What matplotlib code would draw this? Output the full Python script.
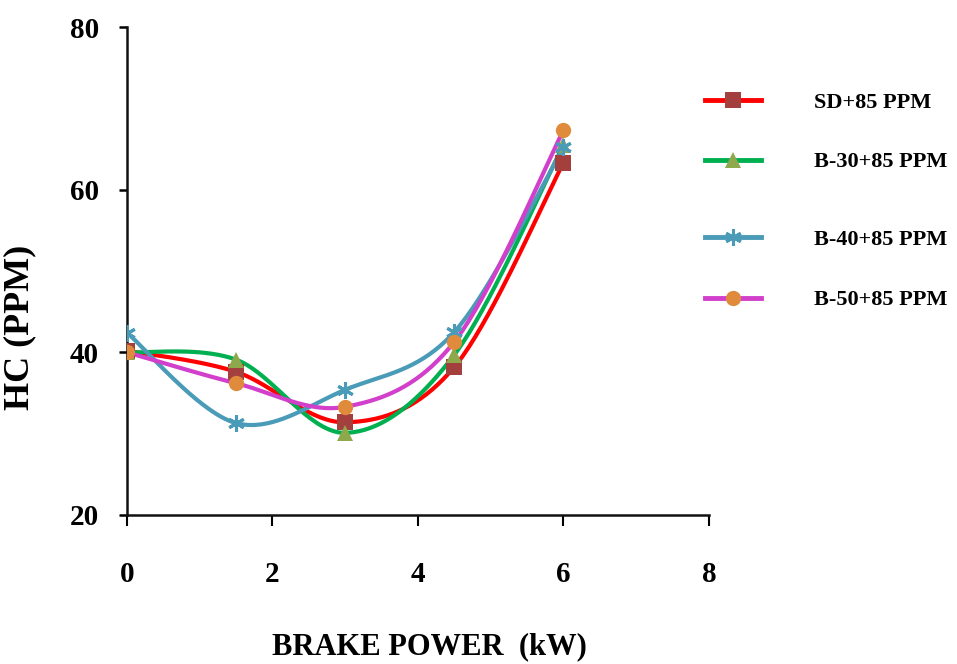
import numpy as np
import matplotlib
matplotlib.use("Agg")
import matplotlib.pyplot as plt
from matplotlib.lines import Line2D

plt.rcParams['font.family'] = ['Liberation Serif', 'DejaVu Serif']
plt.rcParams['font.weight'] = 'bold'

brake_power = [0, 1.5, 3, 4.5, 6]
sd_85 = [40.2, 37.6, 31.4, 38.2, 63.3]
b30_85 = [40.0, 39.1, 30.1, 39.7, 65.5]
b40_85 = [42.4, 31.3, 35.4, 42.5, 65.2]
b50_85 = [40.0, 36.2, 33.3, 41.3, 67.3]

labels = ['SD+85 PPM', 'B-30+85 PPM', 'B-40+85 PPM', 'B-50+85 PPM']
line_colors = ['#FF0000', '#00B050', '#4A9BB8', '#D13FCB']
marker_colors = ['#A3403D', '#8EA84C', '#4A9BB8', '#E08A3C']
markers = ['s', '^', (6, 2, 0), 'o']
legend_y = [0.845, 0.756, 0.639, 0.548]


def smooth(xs, ys, steps=40):
    # excel style smoothed line (bezier through every point)
    p = np.column_stack([xs, ys]).astype(float)
    ext = np.vstack([p[0], p, p[-1]])
    t = np.linspace(0, 1, steps)[:, None]
    out = []
    for i in range(len(p) - 1):
        p0 = ext[i + 1]
        p3 = ext[i + 2]
        c1 = p0 + (ext[i + 2] - ext[i]) / 6
        c2 = p3 - (ext[i + 3] - ext[i + 1]) / 6
        seg = ((1 - t) ** 3) * p0 + 3 * ((1 - t) ** 2) * t * c1 + 3 * (1 - t) * t ** 2 * c2 + t ** 3 * p3
        out.append(seg)
    out = np.vstack(out)
    return out[:, 0], out[:, 1]


fig = plt.figure(figsize=(9.57, 6.64), dpi=100)
ax = fig.add_axes([0.1327, 0.2244, 0.6081, 0.7349])

series = [sd_85, b30_85, b40_85, b50_85]
for k, vals in enumerate(series):
    sx, sy = smooth(brake_power, vals)
    ax.plot(sx, sy, color=line_colors[k], lw=3, zorder=2 + k, solid_capstyle='round')
    mew = 2.2 if k == 2 else 0
    ms = 12 if k == 2 else 11
    ax.plot(brake_power, vals, ls='none', marker=markers[k], ms=ms,
            markerfacecolor=marker_colors[k], markeredgecolor=marker_colors[k],
            markeredgewidth=mew, zorder=10 + k)
    h = Line2D([], [], color=line_colors[k], lw=3.5, marker=markers[k], ms=ms,
               markerfacecolor=marker_colors[k], markeredgecolor=marker_colors[k],
               markeredgewidth=mew)
    fig.legend(handles=[h], labels=[labels[k]], loc='center left',
               bbox_to_anchor=(0.737, legend_y[k]), frameon=False,
               borderpad=0, borderaxespad=0, handlelength=2.5, handletextpad=2.4,
               prop={'family': 'Liberation Serif', 'weight': 'bold', 'size': 16})

ax.set_xlim(0, 8)
ax.set_ylim(20, 80)
ax.set_xticks([0, 2, 4, 6, 8])
ax.set_yticks([20, 40, 60, 80])

ax.spines['top'].set_visible(False)
ax.spines['right'].set_visible(False)
for s in ['left', 'bottom']:
    ax.spines[s].set_linewidth(1.8)
    ax.spines[s].set_color('#111111')

ax.tick_params(axis='y', direction='out', length=6, width=1.8, pad=14, labelsize=21)
ax.tick_params(axis='x', direction='out', length=8, width=1.5, pad=25, labelsize=21)
for lab in ax.get_xticklabels() + ax.get_yticklabels():
    lab.set_fontweight('bold')

ax.set_xlabel('BRAKE POWER  (kW)', fontsize=22, fontweight='bold')
ax.set_ylabel('HC (PPM)', fontsize=26, fontweight='bold')
ax.xaxis.set_label_coords(0.52, -0.24)
ax.yaxis.set_label_coords(-0.155, 0.385)

fig.savefig('out.png', dpi=100)
